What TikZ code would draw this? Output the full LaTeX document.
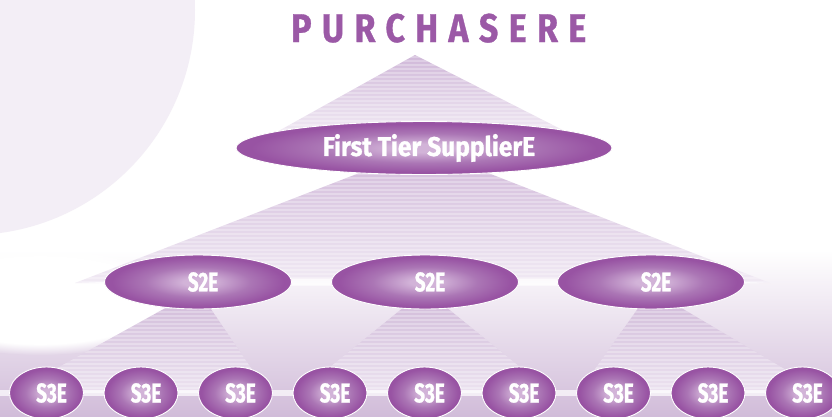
\documentclass[tikz,border=0pt]{standalone}
\usepackage{fontspec}
\setmainfont{Fira Sans}
\newfontfamily\lblfont{Fira Sans}[FakeStretch=0.7,BoldFeatures={FakeBold=1}]
\newfontfamily\widefont{Fira Sans}[FakeStretch=0.91,BoldFeatures={FakeBold=1}]
\newfontfamily\ttlfont{Fira Sans}[FakeStretch=0.85,LetterSpace=26,BoldFeatures={FakeBold=0.8}]
\usetikzlibrary{shapes.geometric,fadings}

\definecolor{plum}{HTML}{9B59A6}
\definecolor{bubC}{HTML}{D2B3D8}
\definecolor{bubM}{HTML}{AB76B5}
\definecolor{bubE}{HTML}{9853A3}
\definecolor{haze}{HTML}{F3EEF6}
\definecolor{pyrTop}{HTML}{D0B8D9}
\definecolor{pyrBot}{HTML}{F1EAF4}
\definecolor{fanTop}{HTML}{CDB5D6}
\definecolor{fanBot}{HTML}{ECE3F0}
\definecolor{bandM}{HTML}{E1D4E6}
\definecolor{bandB}{HTML}{D1BCD9}

\pgfdeclareradialshading{bubble}{\pgfpoint{0bp}{0bp}}{%
  color(0bp)=(bubC); color(4bp)=(bubC); color(14bp)=(bubM);
  color(23bp)=(bubE); color(50bp)=(bubE)}

\pgfdeclarelayer{bg}
\pgfsetlayers{bg,main}

\tikzset{
  bubble/.style={ellipse, shading=bubble, draw=white, line width=0.9pt, inner sep=0pt},
  tierone/.style={bubble, minimum width=376pt, minimum height=53pt},
  tiertwo/.style={bubble, minimum width=187pt, minimum height=54pt},
  tierthree/.style={bubble, minimum width=74pt, minimum height=52pt},
  lbl/.style={text=white, font=\lblfont\bfseries\fontsize{27}{27}\selectfont, xshift=5pt, inner sep=0pt},
  widelbl/.style={lbl, font=\widefont\bfseries\fontsize{27}{27}\selectfont},
  stripe/.style={white, opacity=0.28, line width=1.3pt},
  glow/.style={white, opacity=0.8},
}

\newcommand\hstripes[2]{%
  \foreach \yy in {#1,...,#2} {\draw[stripe] (-20,\yy) -- (860,\yy);}}

\begin{document}
\begin{tikzpicture}[x=1pt, y=-1pt]
\useasboundingbox (0,0) rectangle (832,416);
\clip (0,0) rectangle (832,416);

% title
\node[anchor=base west, inner sep=0pt, text=plum,
      font=\ttlfont\bfseries\fontsize{40}{40}\selectfont] (buyer) at (291,42) {PURCHASERE};

% anchor points of the pyramid
\coordinate (apex) at (415,55);
\coordinate (tw) at (75,283);
\coordinate (te) at (770,283);

% nodes
\node[tierone, label={[widelbl]center:First Tier SupplierE}] (t1) at (424,148) {};
\node[tiertwo, label={[lbl]center:S2E}] (s2a) at (198,282) {};
\node[tiertwo, label={[lbl]center:S2E}] (s2b) at (425,282) {};
\node[tiertwo, label={[lbl]center:S2E}] (s2c) at (651,282) {};
\foreach \i/\x in {1/46.5,2/141,3/235.5,4/330,5/424.5,6/519,7/613.5,8/708,9/802.5}
  \node[tierthree, label={[lbl]center:S3E}] (s3\i) at (\x,393) {};

\begin{pgfonlayer}{bg}
  \fill[white] (0,0) rectangle (832,416);
  % soft disc in the upper left corner
  \fill[haze] (-30,10) circle[radius=225pt];

  % tinted floor under the lower tiers
  \shade[top color=white, middle color=bandM, bottom color=bandB] (0,250) rectangle (832,416);
  \fill[white, path fading=circle with fuzzy edge 20 percent] (40,300) ellipse[x radius=150pt, y radius=55pt];

  % second fan: first tier to the S2E row
  \begin{scope}
    \clip (t1.center) -- (tw) -- (te) -- cycle;
    \shade[top color=pyrTop, bottom color=pyrBot] (0,148) rectangle (832,283);
    \hstripes{150,154}{283}
  \end{scope}

  % first fan: purchaser to first tier
  \begin{scope}
    \clip (apex) -- (248,148) -- (598,148) -- cycle;
    \shade[top color=pyrTop, bottom color=pyrBot!60!white] (0,55) rectangle (832,148);
    \hstripes{57,61}{148}
  \end{scope}

  % fans from each S2E to its S3E
  \foreach \n/\l/\r in {s2a/12/268, s2b/298/552, s2c/578/825} {
    \begin{scope}
      \clip ([yshift=-8pt]\n.center) -- (\l,393) -- (\r,393) -- cycle;
      \shade[top color=fanTop, bottom color=fanBot] (0,282) rectangle (832,393);
      \hstripes{284,288}{393}
    \end{scope}
  }

  % light streaks along the S2E and S3E rows
  \fill[glow] (tw) -- ([yshift=3.5pt]s2a.center) -- ([yshift=3.5pt]s2c.center) -- (te)
     -- ([yshift=-3.5pt]s2c.center) -- ([yshift=-3.5pt]s2a.center) -- cycle;
  \fill[white, opacity=0.7] (0,390) rectangle (832,396);
\end{pgfonlayer}
\end{tikzpicture}
\end{document}
